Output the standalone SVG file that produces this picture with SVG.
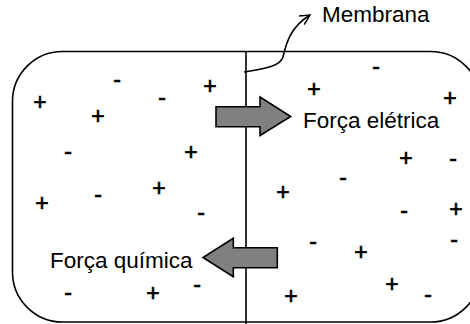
<svg xmlns="http://www.w3.org/2000/svg" width="470" height="324" viewBox="0 0 470 324">
<style>
.t{font-family:"Liberation Sans",Arial,sans-serif;font-size:22.5px;fill:#000}
.s{font-family:"Liberation Sans",Arial,sans-serif;font-size:23px;fill:#000;stroke:#000;stroke-width:0.7;text-anchor:middle}
.ln{fill:none;stroke:#000;stroke-width:1.6}
.ar{fill:#808080;stroke:#000;stroke-width:1.6;stroke-linejoin:miter}
</style>
<defs>
<marker id="open" markerWidth="14" markerHeight="14" refX="10" refY="5" orient="auto" markerUnits="userSpaceOnUse" viewBox="0 0 14 10">
<path d="M0,0 L10,5 L0,10" fill="none" stroke="#000" stroke-width="1.4"/>
</marker>
</defs>
<g id="cell">
<rect x="12.5" y="51.5" width="468" height="270.5" rx="50" ry="50" class="ln"/>
</g>
<g id="membrane">
<line x1="246" y1="51.5" x2="246" y2="324" class="ln"/>
</g>
<g id="connectors">
<path d="M244 72 C262 69,280 67,283 57 C286 45,289 28,310 15" class="ln" stroke-width="1.4" marker-end="url(#open)"/>
</g>
<g id="forca-eletrica">
<polygon points="216,106.7 260,106.7 260,97 290.7,116.5 260,135.5 260,126.7 216,126.7" class="ar"/>
<text class="t" x="303" y="128">Força elétrica</text>
</g>
<g id="forca-quimica">
<polygon points="277.3,247.7 233.3,247.7 233.3,238.3 203,257.5 233.3,276.7 233.3,267.7 277.3,267.7" class="ar"/>
<text class="t" x="50" y="268">Força química</text>
</g>
<g id="membrana-label">
<text class="t" x="322" y="22">Membrana</text>
</g>
<g id="charges">
<text class="s" x="117" y="87">-</text>
<text class="s" x="210" y="94">+</text>
<text class="s" x="40" y="110">+</text>
<text class="s" x="162" y="105">-</text>
<text class="s" x="98" y="124">+</text>
<text class="s" x="68" y="159">-</text>
<text class="s" x="191" y="160">+</text>
<text class="s" x="42" y="211">+</text>
<text class="s" x="98" y="202">-</text>
<text class="s" x="159" y="196">+</text>
<text class="s" x="201" y="220">-</text>
<text class="s" x="68" y="300">-</text>
<text class="s" x="153" y="301">+</text>
<text class="s" x="197" y="292">-</text>
<text class="s" x="376" y="74">-</text>
<text class="s" x="314" y="97">+</text>
<text class="s" x="450" y="106">+</text>
<text class="s" x="406" y="166">+</text>
<text class="s" x="453" y="166">-</text>
<text class="s" x="343" y="185">-</text>
<text class="s" x="283" y="200">+</text>
<text class="s" x="404" y="218">-</text>
<text class="s" x="456" y="217">+</text>
<text class="s" x="313" y="249">-</text>
<text class="s" x="361" y="260">+</text>
<text class="s" x="454" y="247">-</text>
<text class="s" x="392" y="292">+</text>
<text class="s" x="428" y="302">-</text>
<text class="s" x="291" y="304">+</text>
</g>
</svg>
